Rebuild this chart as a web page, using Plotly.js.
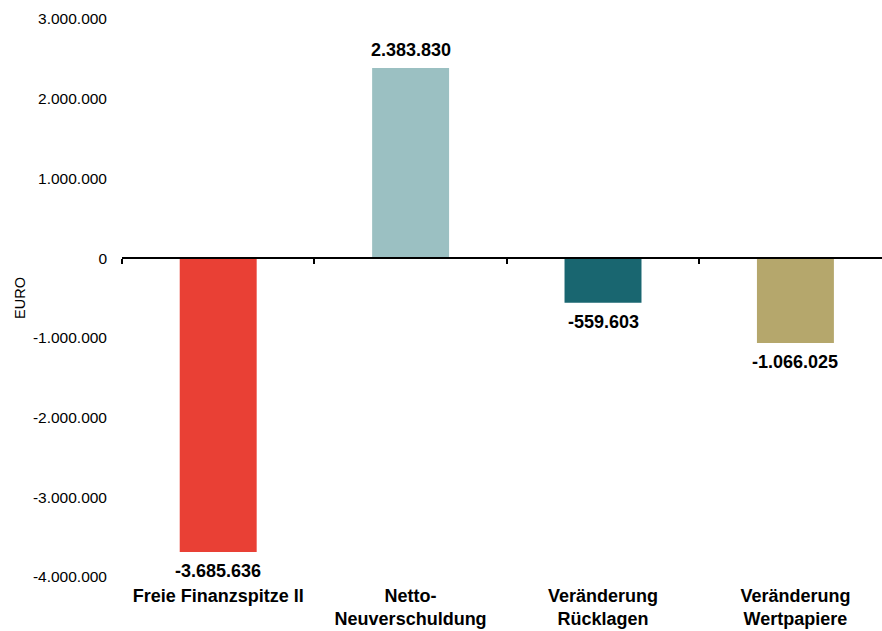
<!DOCTYPE html>
<html>
<head>
<meta charset="utf-8">
<script src="https://cdn.plot.ly/plotly-3.0.1.min.js"></script>
<style>html,body{margin:0;padding:0;background:#fff;}#chart{width:882px;height:631px;}</style>
</head>
<body>
<div id="chart"></div>
<script>
const categories = ["Freie Finanzspitze II", "Netto-<br>Neuverschuldung", "Veränderung<br>Rücklagen", "Veränderung<br>Wertpapiere"];
const values = [-3685636, 2383830, -559603, -1066025];
const barColors = ["#E94035", "#9BC0C2", "#196670", "#B5A76C"];
const yTickVals = [-4000000, -3000000, -2000000, -1000000, 0, 1000000, 2000000, 3000000];
const boundaryVals = [-0.5, 0.5, 1.5, 2.5, 3.5];

function fmtDE(v) {
  const s = Math.abs(Math.round(v)).toString().replace(/\B(?=(\d{3})+(?!\d))/g, ".");
  return (v < 0 ? "-" : "") + s;
}

const xIdx = categories.map((c, i) => i);

const traces = [
  {
    type: "bar",
    x: xIdx,
    y: values,
    marker: { color: barColors },
    width: 0.4,
    textposition: "none",
    hoverinfo: "skip",
    showlegend: false
  },
  {
    type: "scatter",
    x: [null],
    y: [null],
    xaxis: "x2",
    yaxis: "y",
    mode: "markers",
    showlegend: false,
    hoverinfo: "skip"
  }
];

const yMin = -4000000, yMax = 3000000;

const labelAnnotations = values.map((v, i) => ({
  x: i,
  y: v,
  xref: "x",
  yref: "y",
  text: "<b>" + fmtDE(v) + "</b>",
  showarrow: false,
  xanchor: "center",
  yanchor: v >= 0 ? "bottom" : "top",
  yshift: v >= 0 ? 6 : -7,
  font: { family: "Liberation Sans, Arial, sans-serif", size: 18, color: "#000" }
}));

const layout = {
  width: 882,
  height: 631,
  margin: { l: 122, r: 0, t: 19, b: 54, pad: 0 },
  paper_bgcolor: "#fff",
  plot_bgcolor: "#fff",
  font: { family: "Liberation Sans, Arial, sans-serif", color: "#000" },
  separators: ",.",
  xaxis: {
    range: [-0.5, 3.45],
    tickmode: "array",
    tickvals: xIdx,
    ticktext: categories.map(c => "<b>" + c + "</b>"),
    tickfont: { size: 18, color: "#000" },
    ticklabelstandoff: 6,
    showgrid: false,
    zeroline: false,
    showline: false,
    ticks: "",
    fixedrange: true
  },
  xaxis2: {
    overlaying: "x",
    anchor: "free",
    position: (0 - yMin) / (yMax - yMin),
    range: [-0.5, 3.45],
    tickmode: "array",
    tickvals: boundaryVals,
    ticks: "outside",
    ticklen: 5,
    tickwidth: 2,
    tickcolor: "#000",
    showticklabels: false,
    showline: true,
    linewidth: 2,
    linecolor: "#000",
    showgrid: false,
    zeroline: false
  },
  yaxis: {
    range: [yMin, yMax],
    tickmode: "array",
    tickvals: yTickVals,
    ticktext: yTickVals.map(fmtDE),
    tickfont: { size: 15.5, color: "#000" },
    ticklabelstandoff: 14,
    showgrid: false,
    zeroline: false,
    showline: false,
    ticks: "",
    title: { text: "EURO", font: { size: 14.5, color: "#000" }, standoff: 3 }
  },
  annotations: labelAnnotations,
  bargap: 0.6
};

Plotly.newPlot("chart", traces, layout, { displayModeBar: false, staticPlot: true });
</script>
</body>
</html>
